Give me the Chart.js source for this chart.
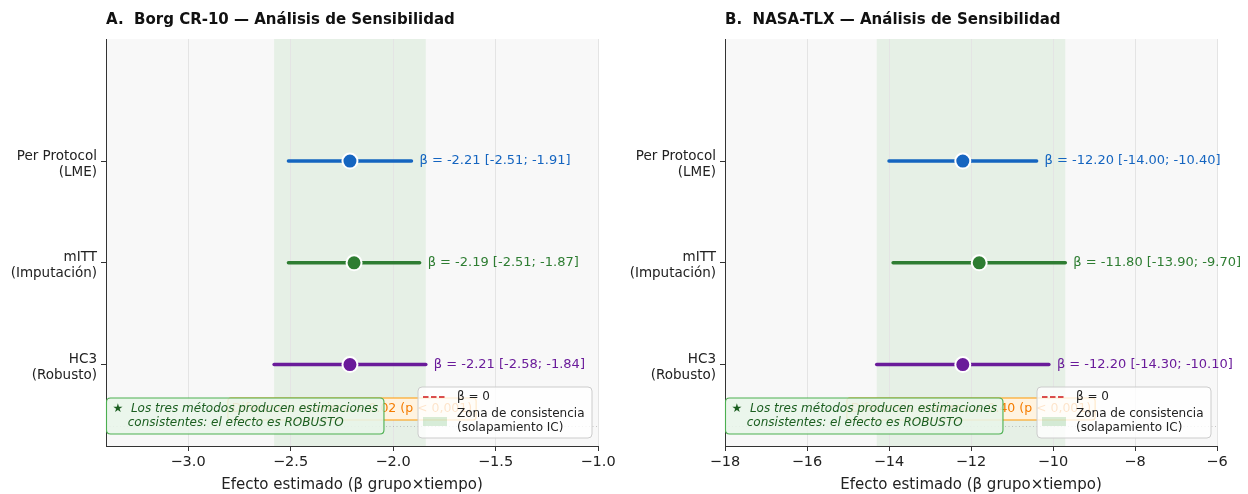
<!DOCTYPE html>
<html>
<head>
<meta charset="utf-8">
<script src="https://cdn.jsdelivr.net/npm/chart.js@4.4.1/dist/chart.umd.min.js"></script>
<style>
  html, body { margin: 0; padding: 0; background: #fff; }
  #wrap { position: relative; width: 1248px; height: 494px; }
  .panel { position: absolute; top: 0; width: 624px; height: 494px; }
</style>
</head>
<body>
<div id="wrap">
  <div class="panel" style="left:0"><canvas id="chartA" width="624" height="494"></canvas></div>
  <div class="panel" style="left:624px"><canvas id="chartB" width="624" height="494"></canvas></div>
</div>
<script>
// Methods, top to bottom
const methodLabels = [['Per Protocol', '(LME)'], ['mITT', '(Imputación)'], ['HC3', '(Robusto)']];
const methodPos = [2, 1, 0];
const methodColors = ['#1565C0', '#2E7D32', '#6A1B9A'];

// Panel A: Borg CR-10
const borgEst = [-2.21, -2.19, -2.21];
const borgLow = [-2.51, -2.51, -2.58];
const borgHigh = [-1.91, -1.87, -1.84];
const borgTicks = [-3.0, -2.5, -2.0, -1.5, -1.0];

// Panel B: NASA-TLX
const tlxEst = [-12.20, -11.80, -12.20];
const tlxLow = [-14.00, -13.90, -14.30];
const tlxHigh = [-10.40, -9.70, -10.10];
const tlxTicks = [-18, -16, -14, -12, -10, -8, -6];

const FONT = "'DejaVu Sans', sans-serif";
const minus = s => s.replace(/-/g, '\u2212');

function roundRect(ctx, x, y, w, h, r) {
    ctx.beginPath();
    ctx.moveTo(x + r, y);
    ctx.lineTo(x + w - r, y);
    ctx.quadraticCurveTo(x + w, y, x + w, y + r);
    ctx.lineTo(x + w, y + h - r);
    ctx.quadraticCurveTo(x + w, y + h, x + w - r, y + h);
    ctx.lineTo(x + r, y + h);
    ctx.quadraticCurveTo(x, y + h, x, y + h - r);
    ctx.lineTo(x, y + r);
    ctx.quadraticCurveTo(x, y, x + r, y);
    ctx.closePath();
}

// draws background, consistency band, labels, boxes and legend
function panelPlugin(cfg) {
    return {
        id: 'panel',
        beforeDraw(chart) {
            const { ctx, chartArea: a, scales: { x } } = chart;
            ctx.save();
            ctx.fillStyle = '#f8f8f8';
            ctx.fillRect(a.left, a.top, a.right - a.left, a.bottom - a.top);
            const b0 = x.getPixelForValue(Math.min(...cfg.low));
            const b1 = x.getPixelForValue(Math.max(...cfg.high));
            ctx.fillStyle = 'rgba(76,175,80,0.1)';
            ctx.fillRect(b0, a.top, b1 - b0, a.bottom - a.top);
            ctx.restore();
        },
        afterDatasetsDraw(chart) {
            const { ctx, scales: { x, y } } = chart;
            ctx.save();
            ctx.font = `13px ${FONT}`;
            ctx.textBaseline = 'middle';
            ctx.textAlign = 'left';
            cfg.est.forEach((v, i) => {
                ctx.fillStyle = methodColors[i];
                const txt = `β = ${v.toFixed(2)} [${cfg.low[i].toFixed(2)}; ${cfg.high[i].toFixed(2)}]`;
                ctx.fillText(txt, x.getPixelForValue(cfg.high[i]) + 8, y.getPixelForValue(methodPos[i]));
            });
            ctx.restore();
        },
        afterDraw(chart) {
            const { ctx, chartArea: a, scales: { y } } = chart;
            ctx.save();

            // title
            ctx.font = `bold 15px ${FONT}`;
            ctx.fillStyle = '#111';
            ctx.textBaseline = 'middle';
            ctx.textAlign = 'left';
            ctx.fillText(cfg.title, a.left, 20);

            // dotted separator
            const yd = Math.round(y.getPixelForValue(-0.6)) + 0.5;
            ctx.strokeStyle = 'rgba(140,140,140,0.6)';
            ctx.lineWidth = 0.8;
            ctx.setLineDash([1, 2.5]);
            ctx.beginPath();
            ctx.moveTo(a.left, yd);
            ctx.lineTo(a.right, yd);
            ctx.stroke();
            ctx.setLineDash([]);

            // orange note (centered)
            ctx.font = `12.5px ${FONT}`;
            const ow = ctx.measureText(cfg.note).width + 8;
            const ox = (a.left + a.right) / 2 - ow / 2;
            const oy = a.bottom - 48;
            roundRect(ctx, ox, oy, ow, 22, 3);
            ctx.fillStyle = '#FFF3E0';
            ctx.fill();
            ctx.strokeStyle = '#FF9800';
            ctx.lineWidth = 1.2;
            ctx.stroke();
            ctx.fillStyle = '#F57C00';
            ctx.textAlign = 'center';
            ctx.fillText(cfg.note, (a.left + a.right) / 2, oy + 11);

            // green conclusion box
            const l1 = '★  Los tres métodos producen estimaciones';
            const l2 = '    consistentes: el efecto es ROBUSTO';
            ctx.font = `italic 12px ${FONT}`;
            const gw = Math.max(ctx.measureText(l1).width, ctx.measureText(l2).width) + 12;
            const gx = a.left + 0.5, gy = a.bottom - 48;
            roundRect(ctx, gx, gy, gw, 36, 4);
            ctx.fillStyle = 'rgba(232,245,233,0.88)';
            ctx.fill();
            ctx.strokeStyle = '#4CAF50';
            ctx.lineWidth = 1.1;
            ctx.stroke();
            ctx.fillStyle = '#1B5E20';
            ctx.textAlign = 'left';
            ctx.fillText(l1, gx + 6, gy + 11);
            ctx.fillText(l2, gx + 6, gy + 25);

            // legend
            const lw = 174, lh = 51;
            const lx = a.right - 6 - lw, ly = a.bottom - 8 - lh;
            roundRect(ctx, lx, ly, lw, lh, 4);
            ctx.fillStyle = 'rgba(255,255,255,0.8)';
            ctx.fill();
            ctx.strokeStyle = '#cccccc';
            ctx.lineWidth = 1;
            ctx.stroke();
            ctx.strokeStyle = 'rgba(211,47,47,0.85)';
            ctx.lineWidth = 1.8;
            ctx.setLineDash([5.5, 2.5]);
            ctx.beginPath();
            ctx.moveTo(lx + 5, ly + 10);
            ctx.lineTo(lx + 29, ly + 10);
            ctx.stroke();
            ctx.setLineDash([]);
            ctx.fillStyle = 'rgba(76,175,80,0.22)';
            ctx.fillRect(lx + 5, ly + 30, 24, 9);
            ctx.font = `12px ${FONT}`;
            ctx.fillStyle = '#222';
            ctx.fillText('β = 0', lx + 39, ly + 10);
            ctx.fillText('Zona de consistencia', lx + 39, ly + 27);
            ctx.fillText('(solapamiento IC)', lx + 39, ly + 41);

            ctx.restore();
        }
    };
}

function drawPanel(canvasId, cfg) {
    const datasets = [];
    cfg.est.forEach((v, i) => {
        datasets.push({
            data: [{ x: cfg.low[i], y: methodPos[i] }, { x: cfg.high[i], y: methodPos[i] }],
            showLine: true,
            borderColor: methodColors[i],
            borderWidth: 3.5,
            borderCapStyle: 'round',
            pointRadius: 0,
            order: 1
        });
    });
    datasets.push({
        data: cfg.est.map((v, i) => ({ x: v, y: methodPos[i] })),
        pointRadius: 7.5,
        pointBackgroundColor: methodColors,
        pointBorderColor: '#ffffff',
        pointBorderWidth: 2,
        order: 0
    });

    new Chart(document.getElementById(canvasId), {
        type: 'scatter',
        data: { datasets },
        options: {
            responsive: false,
            animation: false,
            devicePixelRatio: 1,
            layout: { padding: { left: 0, right: cfg.padRight, top: 39, bottom: 0 } },
            plugins: { legend: { display: false }, tooltip: { enabled: false } },
            scales: {
                x: {
                    type: 'linear',
                    min: cfg.min,
                    max: cfg.max,
                    afterBuildTicks: axis => { axis.ticks = cfg.ticks.map(v => ({ value: v })); },
                    afterFit: s => { s.height = 48; },
                    ticks: {
                        autoSkip: false,
                        maxRotation: 0,
                        padding: 3,
                        color: '#222',
                        font: { family: FONT, size: 14.5 },
                        callback: v => minus(v.toFixed(cfg.decimals))
                    },
                    grid: { color: '#e4e4e4', lineWidth: 1, tickColor: '#333', tickLength: 5 },
                    border: { color: '#333', width: 1 },
                    title: {
                        display: true,
                        text: 'Efecto estimado (β grupo×tiempo)',
                        color: '#222',
                        font: { family: FONT, size: 15 },
                        padding: { top: 2, bottom: 0 }
                    }
                },
                y: {
                    type: 'linear',
                    min: -0.8,
                    max: 3.2,
                    afterBuildTicks: axis => { axis.ticks = methodPos.map(v => ({ value: v })); },
                    afterFit: s => { s.width = cfg.yWidth; },
                    ticks: {
                        autoSkip: false,
                        padding: 4,
                        labelOffset: 3,
                        color: '#222',
                        font: { family: FONT, size: 13.5 },
                        callback: v => methodLabels[methodPos.indexOf(v)]
                    },
                    grid: { drawOnChartArea: false, tickColor: '#333', tickLength: 5 },
                    border: { color: '#333', width: 1 }
                }
            }
        },
        plugins: [panelPlugin(cfg)]
    });
}

drawPanel('chartA', {
    title: 'A.  Borg CR-10 — Análisis de Sensibilidad',
    est: borgEst, low: borgLow, high: borgHigh,
    ticks: borgTicks, min: -3.4, max: -1.0, decimals: 1,
    yWidth: 106, padRight: 26,
    note: 'Diferencia máxima = 0.02 (p < 0,001)'
});

drawPanel('chartB', {
    title: 'B.  NASA-TLX — Análisis de Sensibilidad',
    est: tlxEst, low: tlxLow, high: tlxHigh,
    ticks: tlxTicks, min: -18, max: -6, decimals: 0,
    yWidth: 101, padRight: 31,
    note: 'Diferencia máxima = 0.40 (p < 0,001)'
});
</script>
</body>
</html>
